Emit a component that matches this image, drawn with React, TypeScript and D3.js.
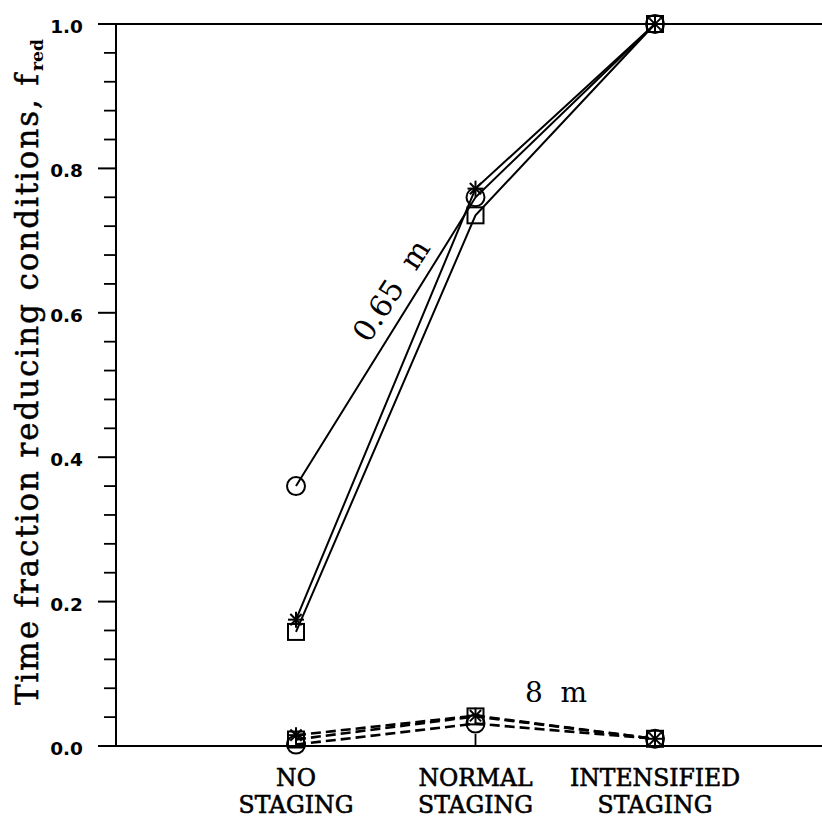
import React from "react";
import * as d3 from "d3";

// ---- data ----
const categories = ["NO STAGING", "NORMAL STAGING", "INTENSIFIED STAGING"];
const categoryLines = [
  ["NO", "STAGING"],
  ["NORMAL", "STAGING"],
  ["INTENSIFIED", "STAGING"],
];
// 0.65 m depth (solid lines)
const shallowCircle = [0.36, 0.76, 1.0];
const shallowStar = [0.175, 0.772, 1.0];
const shallowSquare = [0.158, 0.735, 1.0];
// 8 m depth (dashed lines)
const deepCircle = [0.002, 0.031, 0.01];
const deepStar = [0.015, 0.042, 0.01];
const deepSquare = [0.009, 0.041, 0.01];

const majorTicks = [0, 0.2, 0.4, 0.6, 0.8, 1.0];
const tickLabels = ["0.0", "0.2", "0.4", "0.6", "0.8", "1.0"];

type Marker = "circle" | "star" | "square";
const seriesList: { values: number[]; marker: Marker; dashed: boolean }[] = [
  { values: shallowCircle, marker: "circle", dashed: false },
  { values: shallowStar, marker: "star", dashed: false },
  { values: shallowSquare, marker: "square", dashed: false },
  { values: deepCircle, marker: "circle", dashed: true },
  { values: deepStar, marker: "star", dashed: true },
  { values: deepSquare, marker: "square", dashed: true },
];

const W = 822;
const H = 819;
const axisX = 116;
const y0 = 746;
const y1 = 24;

export default function App() {
  const x = d3.scalePoint<string>().domain(categories).range([296, 655]);
  const y = d3.scaleLinear().domain([0, 1]).range([y0, y1]);
  const minorTicks = d3
    .range(0, 1.0001, 0.04)
    .filter((v) => !majorTicks.some((m) => Math.abs(m - v) < 1e-6));

  const line = d3
    .line<number>()
    .x((_, i) => x(categories[i]) as number)
    .y((v) => y(v));

  const drawMarker = (m: Marker, cx: number, cy: number, key: string) => {
    if (m === "circle")
      return <circle key={key} cx={cx} cy={cy} r={9} fill="none" stroke="#000" strokeWidth={2} />;
    if (m === "square")
      return <rect key={key} x={cx - 8} y={cy - 8} width={16} height={16} fill="none" stroke="#000" strokeWidth={2} />;
    const r = 8;
    const d = r * Math.SQRT1_2;
    return (
      <g key={key} stroke="#000" strokeWidth={2}>
        <line x1={cx - r} y1={cy} x2={cx + r} y2={cy} />
        <line x1={cx} y1={cy - r} x2={cx} y2={cy + r} />
        <line x1={cx - d} y1={cy - d} x2={cx + d} y2={cy + d} />
        <line x1={cx - d} y1={cy + d} x2={cx + d} y2={cy - d} />
      </g>
    );
  };

  const serif = "'DejaVu Serif', serif";

  return (
    <svg
      width={W}
      height={H}
      style={{ position: "absolute", left: 0, top: 0, background: "#fff" }}
    >
      <rect width={W} height={H} fill="#fff" />
      {/* axes */}
      <line x1={axisX} y1={y(0)} x2={axisX} y2={y(1)} stroke="#000" strokeWidth={2} />
      <line x1={98} y1={y(1)} x2={W} y2={y(1)} stroke="#000" strokeWidth={2} />
      <line x1={98} y1={y(0)} x2={W} y2={y(0)} stroke="#000" strokeWidth={2} />
      {majorTicks.map((t, i) => (
        <g key={"mj" + i}>
          <line x1={98} y1={y(t)} x2={axisX} y2={y(t)} stroke="#000" strokeWidth={2} />
          <text
            x={83}
            y={y(t) + 9}
            textAnchor="end"
            fontFamily="'DejaVu Sans', sans-serif"
            fontWeight="bold"
            fontSize={18.5}
          >
            {tickLabels[i]}
          </text>
        </g>
      ))}
      {minorTicks.map((t, i) => (
        <line key={"mn" + i} x1={104} y1={y(t)} x2={axisX} y2={y(t)} stroke="#000" strokeWidth={1.8} />
      ))}
      {categories.map((c) => (
        <line key={"xt" + c} x1={x(c)} y1={y0} x2={x(c)} y2={y0 - 12} stroke="#000" strokeWidth={1.8} />
      ))}
      {/* category labels */}
      {categories.map((c, i) => (
        <text
          key={"xl" + c}
          textAnchor="middle"
          fontFamily={serif}
          fontSize={23.5}
          fill="#000"
          stroke="#000"
          strokeWidth={0.6}
        >
          <tspan x={x(c)} y={786}>{categoryLines[i][0]}</tspan>
          <tspan x={x(c)} y={813}>{categoryLines[i][1]}</tspan>
        </text>
      ))}
      {/* y title */}
      <g transform="translate(38,705) rotate(-90)">
        <text
          x={0}
          y={0}
          fontFamily={serif}
          fontSize={31}
          textLength={631}
          lengthAdjust="spacing"
          stroke="#000"
          strokeWidth={0.5}
        >
          Time fraction reducing conditions, f
        </text>
        <text x={634} y={5} fontFamily={serif} fontSize={16} fontWeight="bold" textLength={32} lengthAdjust="spacingAndGlyphs">
          red
        </text>
      </g>
      {/* series lines */}
      {seriesList.map((s, i) => (
        <path
          key={"ln" + i}
          d={line(s.values) || ""}
          fill="none"
          stroke="#000"
          strokeWidth={s.dashed ? 2.6 : 2}
          strokeDasharray={s.dashed ? "10,5" : undefined}
        />
      ))}
      {/* markers */}
      {seriesList.map((s, i) =>
        s.values.map((v, j) => drawMarker(s.marker, x(categories[j]) as number, y(v), `m${i}-${j}`))
      )}
      {/* annotations */}
      <text
        transform="translate(400,296) rotate(-57)"
        textAnchor="middle"
        fontFamily={serif}
        fontSize={30}
        style={{ whiteSpace: "pre" }}
      >
        {"0.65  m"}
      </text>
      <text x={525} y={702} fontFamily={serif} fontSize={28} style={{ whiteSpace: "pre" }}>
        {"8  m"}
      </text>
    </svg>
  );
}
